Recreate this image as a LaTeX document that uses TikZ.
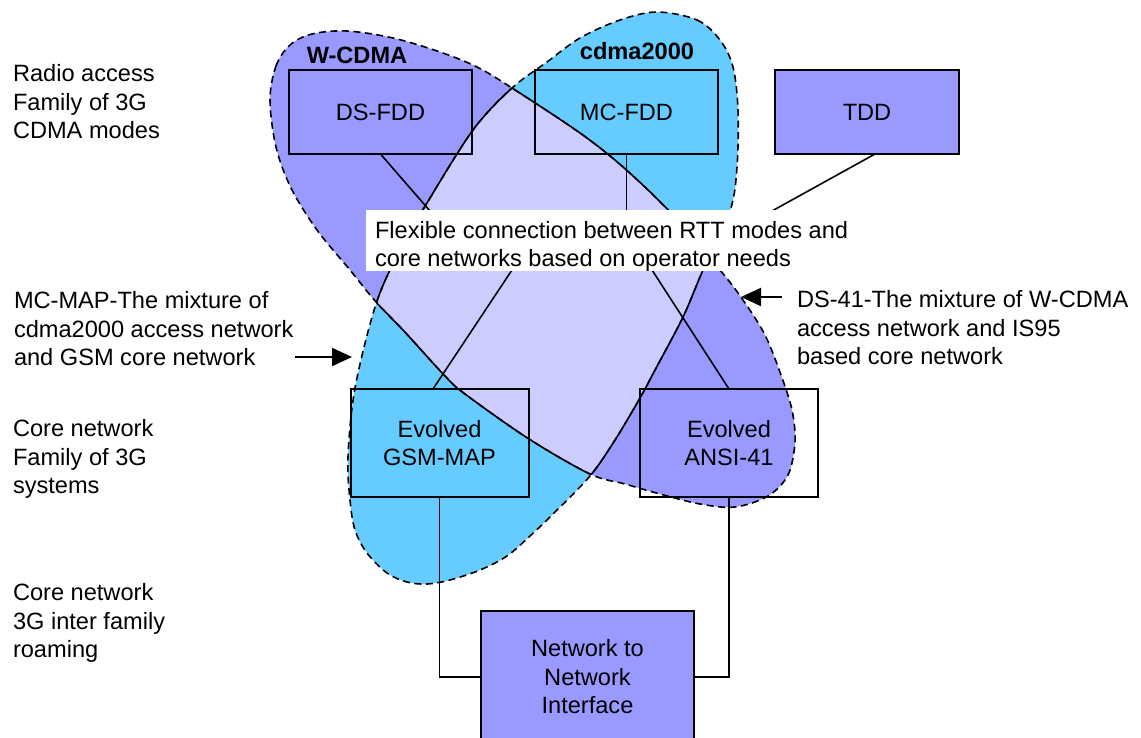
\documentclass[tikz,border=0pt]{standalone}
\usepackage{fontspec}
\setmainfont{Liberation Sans}
\usetikzlibrary{arrows.meta}
\definecolor{wcdma}{HTML}{9999FF}
\definecolor{cdmatwo}{HTML}{66CCFF}
\definecolor{overlap}{HTML}{CCCCFF}

\begin{document}
\begin{tikzpicture}[x=1pt, y=-1pt,
  every node/.style={inner sep=0pt, outer sep=0pt},
  bodyfont/.style={font=\fontsize{23.6}{28.5}\selectfont},
  txt/.style={bodyfont, align=left, anchor=north west},
  title/.style={font=\bfseries\fontsize{23.6}{28.5}\selectfont},
  modebox/.style={draw, line width=2pt, minimum width=183pt, minimum height=84pt, bodyfont},
  corebox/.style={draw, line width=2pt, minimum width=178pt, minimum height=108pt, align=center, bodyfont},
  hubbox/.style={fill=white, anchor=north west, inner sep=0pt, minimum width=494pt, align=left, bodyfont},
  link/.style={line width=1.6pt},
  pointer/.style={line width=2pt, -{Triangle[length=20pt,width=18pt]}},
  outline/.style={line width=1.6pt, dash pattern=on 7pt off 4.5pt},
  edge/.style={line width=1.6pt},
  wcpath/.style={insert path={plot[smooth cycle, tension=0.55] coordinates {
    (270,100) (276,66) (290,45) (312,34) (347,31) (393,38) (440,52) (477,67)
    (512,88) (580,133) (623,167) (670,212) (720,270) (743,300) (765,335)
    (781,375) (792,410) (795,442) (788,475) (768,496) (735,507) (700,504)
    (660,494) (625,484) (590,474) (529,439) (465,394) (445,376) (403,330)
    (376,302) (350,270) (317,230) (291,188) (276,147)}}},
  cdpath/.style={insert path={plot[smooth cycle, tension=0.55] coordinates {
    (657,12) (697,20) (720,40) (733,67) (738,110) (737,167) (730,211)
    (703,270) (683,317) (655,370) (640,398) (615,440) (590,476) (553,514)
    (530,536) (507,556) (480,570) (450,580) (427,584) (407,582) (387,573)
    (367,553) (355,530) (350,500) (348,457) (355,388) (376,304) (400,250)
    (427,203) (473,130) (512,88) (547,62) (580,38) (620,20)}}},
]
\useasboundingbox (0,0) rectangle (1141,737);
\fill[white] (0,0) rectangle (1141,737);

% the two air-interface families and their common ground
\fill[wcdma, wcpath];
\fill[cdmatwo, cdpath];
\begin{scope}
  \clip[wcpath];
  \fill[overlap, cdpath];
\end{scope}
\draw[outline, wcpath];
\draw[outline, cdpath];
\begin{scope}
  \clip[cdpath];
  \draw[edge, wcpath];
\end{scope}
\begin{scope}
  \clip[wcpath];
  \draw[edge, cdpath];
\end{scope}

\node[title] (wtitle) at (357,55) {W-CDMA};
\node[title] (ctitle) at (637,51) {cdma2000};

% radio transmission modes
\node[modebox] (ds) at (380.5,112) {DS-FDD};
\node[modebox] (mc) at (626.5,112) {MC-FDD};
\node[modebox, fill=wcdma, minimum width=184pt] (tdd) at (867,112) {TDD};

% core networks
\node[corebox] (gsm) at (439.5,443) {Evolved\\GSM-MAP};
\node[corebox] (ansi) at (729,443) {Evolved\\ANSI-41};
\node[corebox, fill=wcdma, minimum width=213pt, minimum height=132pt] (nni) at (587.5,677) {Network to\\Network\\Interface};

% links into the flexible-connection label
\coordinate (hA) at (430,211);
\coordinate (hB) at (626.5,211);
\coordinate (hC) at (772,211);
\coordinate (hD) at (512,270);
\coordinate (hE) at (652,270);
\draw[link] (ds.south) -- (hA);
\draw[link] (mc.south) -- (hB);
\draw[link] ([xshift=8pt]tdd.south) -- (hC);
\draw[link] ([xshift=-6.5pt]gsm.north) -- (hD);
\draw[link] (ansi.north) -- (hE);
\draw[link] (gsm.south) |- (nni.west);
\draw[link] (ansi.south) |- (nni.east);

\node[hubbox] (hub) at (366,210) {\hspace*{9pt}\rule{0pt}{28pt}Flexible connection between RTT modes and\hspace*{12pt}\\\hspace*{9pt}core networks based on operator needs};

% side captions
\node[txt] (radio) at (13,61.5) {\rule{0pt}{20pt}Radio access\\Family of 3G\\CDMA modes};
\node[txt] (mcmap) at (14,288.5) {\rule{0pt}{20pt}MC-MAP-The mixture of\\cdma2000 access network\\and GSM core network};
\node[txt] (corefam) at (13,416.5) {\rule{0pt}{20pt}Core network\\Family of 3G\\systems};
\node[txt] (coreroam) at (13,580.5) {\rule{0pt}{20pt}Core network\\3G inter family\\roaming};
\node[txt] (ds41) at (797,287.5) {\rule{0pt}{20pt}DS-41-The mixture of W-CDMA\\access network and IS95\\based core network};

\coordinate (mcTail) at (295,357);
\coordinate (mcTip) at (352,357);
\coordinate (dsTail) at (782,297);
\coordinate (dsTip) at (741,297);
\draw[pointer] (mcTail) -- (mcTip);
\draw[pointer] (dsTail) -- (dsTip);
\end{tikzpicture}
\end{document}
